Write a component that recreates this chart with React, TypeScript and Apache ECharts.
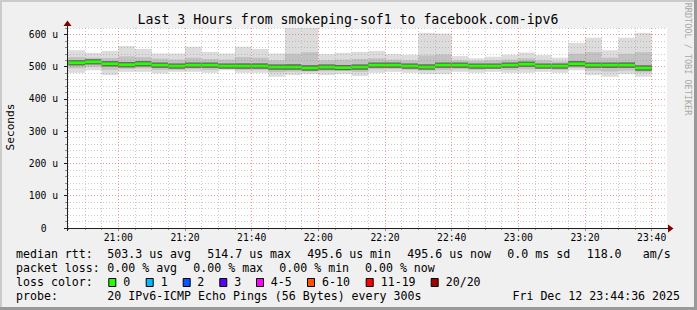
import React, { useEffect, useRef } from "react";
import * as echarts from "echarts";

// ---------- data ----------
const chartTitle = "Last 3 Hours from smokeping-sof1 to facebook.com-ipv6";
const axisStart = "20:44:36";
const axisEnd = "23:44:36";
const firstBin = "20:45";
const stepMinutes = 5;
const xTickLabels = ["21:00", "21:20", "21:40", "22:00", "22:20", "22:40", "23:00", "23:20", "23:40"];
const yMajorTicks = [0, 100, 200, 300, 400, 500, 600];
const yMax = 620;

// microseconds, one value per 5-minute bin
const medianRtt = [512, 515, 509, 506, 509, 505, 502, 505, 505, 502, 502, 502, 499, 499, 496, 499, 497, 499, 505, 505, 502, 499, 505, 505, 502, 502, 505, 508, 502, 502, 509, 505, 505, 505, 496];
const maxRtt = [551, 543, 549, 564, 555, 541, 541, 562, 546, 541, 562, 555, 541, 625, 625, 539, 543, 546, 549, 539, 537, 605, 603, 533, 526, 531, 537, 544, 536, 528, 574, 590, 551, 590, 605];
const minRtt = [481, 489, 474, 484, 484, 479, 484, 484, 481, 489, 481, 481, 469, 474, 477, 474, 477, 471, 481, 484, 481, 477, 477, 484, 481, 484, 481, 481, 484, 481, 489, 474, 469, 477, 469];
const upperMid = [530, 528, 527, 532, 530, 525, 522, 528, 524, 522, 530, 528, 520, 540, 545, 520, 522, 524, 526, 522, 520, 535, 538, 520, 518, 520, 522, 526, 520, 516, 540, 545, 528, 540, 545];
const lowerMid = [495, 500, 490, 493, 495, 490, 490, 492, 490, 493, 490, 490, 483, 485, 485, 486, 487, 484, 492, 493, 490, 488, 490, 492, 490, 493, 490, 492, 493, 490, 496, 488, 485, 488, 482];
const upperInner = [520, 522, 516, 514, 516, 512, 509, 512, 512, 509, 510, 510, 506, 508, 505, 506, 504, 506, 512, 512, 509, 507, 512, 512, 508, 508, 512, 515, 508, 508, 517, 512, 512, 513, 504];
const lowerInner = [505, 508, 501, 498, 501, 497, 495, 497, 497, 495, 494, 495, 491, 491, 488, 491, 490, 491, 497, 497, 495, 492, 497, 497, 495, 495, 497, 500, 495, 495, 501, 497, 496, 497, 488];

const rttRow = ["median rtt:", "503.3 us avg", "514.7 us max", "495.6 us min", "495.6 us now", "0.0 ms sd", "118.0", "am/s"];
const lossRow = ["packet loss:", "0.00 % avg", "0.00 % max", "0.00 % min", "0.00 % now"];
const lossLabels = ["0", "1", "2", "3", "4-5", "6-10", "11-19", "20/20"];
const lossColors = ["#26ff00", "#00b8ff", "#0059ff", "#5e00ff", "#ff00ff", "#ff5500", "#ff0000", "#a10000"];
const probeRow = ["probe:", "20 IPv6-ICMP Echo Pings (56 Bytes) every 300s"];
const timestamp = "Fri Dec 12 23:44:36 2025";
const watermark = "RRDTOOL / TOBI OETIKER";

// ---------- layout ----------
const W = 697;
const H = 310;
const PL = 67, PT = 28, PW = 600, PH = 200;
const MONO = "DejaVu Sans Mono";
const rttX = [16, 107.3, 207.3, 307.3, 407.3, 507.3, 586.7, 642.7];
const lossX = [16, 107.3, 193.3, 279.3, 365];
const boxX = [108.3, 145.7, 182.7, 219.3, 256, 307, 365.7, 430.7];
const boxLabelX = [123.3, 160.7, 197.3, 234.3, 270.7, 322, 380.7, 445.7];

const toMin = (s: string) => {
  const p = s.split(":").map(Number);
  return p[0] * 60 + p[1] + (p[2] || 0) / 60;
};
const fmtMin = (v: number) => {
  const h = Math.floor(v / 60);
  const m = Math.round(v - h * 60);
  return `${h}:${m < 10 ? "0" + m : m}`;
};

export default function App() {
  const ref = useRef<HTMLDivElement>(null);

  useEffect(() => {
    if (!ref.current) return;
    const chart = echarts.init(ref.current, null, { renderer: "svg", width: W, height: H });

    const xMin = toMin(axisStart);
    const xMax = toMin(axisEnd);
    const majorX = xTickLabels.map(toMin);
    const minorX: number[] = [];
    for (let t = Math.ceil(xMin / stepMinutes) * stepMinutes; t < xMax; t += stepMinutes) {
      if (!majorX.includes(t)) minorX.push(t);
    }
    const minorY: number[] = [];
    for (let v = 20; v <= yMax; v += 20) if (v % 100 !== 0) minorY.push(v);

    const binStart = toMin(firstBin);
    const rows = medianRtt.map((m, i) => [
      binStart + i * stepMinutes,
      binStart + (i + 1) * stepMinutes,
      minRtt[i], lowerMid[i], lowerInner[i], m, upperInner[i], upperMid[i], maxRtt[i],
    ]);

    const txt = (text: string, x: number, y: number, extra: any = {}) => ({
      type: "text",
      x, y, z: 50,
      style: {
        text, fontFamily: MONO, fontSize: 11.6, fill: "#000",
        textVerticalAlign: "middle", verticalAlign: "middle", ...extra,
      },
    });

    const graphics: any[] = [
      { type: "rect", z: -10, shape: { x: PL, y: PT, width: PW, height: PH }, style: { fill: "#ffffff" } },
      // border shading
      { type: "rect", z: 60, shape: { x: 0, y: 0, width: W, height: 2 }, style: { fill: "#cbcbcb" } },
      { type: "rect", z: 60, shape: { x: 0, y: 0, width: 2, height: H }, style: { fill: "#cbcbcb" } },
      { type: "rect", z: 61, shape: { x: W - 3, y: 0, width: 3, height: H }, style: { fill: "#999999" } },
      { type: "rect", z: 61, shape: { x: 0, y: H - 3, width: W, height: 3 }, style: { fill: "#999999" } },
      // axes lines
      { type: "line", z: 40, shape: { x1: 64, y1: PT + PH + 0.5, x2: 669, y2: PT + PH + 0.5 }, style: { stroke: "#1f1f1f", lineWidth: 1 } },
      { type: "line", z: 40, shape: { x1: PL + 0.5, y1: PT + PH + 3, x2: PL + 0.5, y2: 24 }, style: { stroke: "#1f1f1f", lineWidth: 1 } },
      { type: "polygon", z: 41, shape: { points: [[668, 224.5], [673.5, 228.5], [668, 232.5]] }, style: { fill: "#7f0000" } },
      { type: "polygon", z: 41, shape: { points: [[63.5, 26], [67.5, 20.5], [71.5, 26]] }, style: { fill: "#7f0000" } },
      // title
      txt(chartTitle, 348, 19, { fontSize: 13.2, align: "center", textAlign: "center" }),
      // y axis title
      { type: "text", z: 50, x: 10, y: 127, rotation: Math.PI / 2,
        style: { text: "Seconds", fontFamily: MONO, fontSize: 11.2, fill: "#000", align: "center", textAlign: "center", verticalAlign: "middle", textVerticalAlign: "middle" } },
      // watermark
      { type: "text", z: 50, x: 688, y: 59, rotation: -Math.PI / 2,
        style: { text: watermark, fontFamily: MONO, fontSize: 8.5, fill: "#a8a8a8", align: "center", textAlign: "center", verticalAlign: "middle", textVerticalAlign: "middle" } },
    ];
    rttRow.forEach((t, i) => graphics.push(txt(t, rttX[i], 254.3)));
    lossRow.forEach((t, i) => graphics.push(txt(t, lossX[i], 268.3)));
    graphics.push(txt("loss color:", 16, 282.3));
    lossLabels.forEach((t, i) => {
      graphics.push({ type: "rect", z: 50, shape: { x: boxX[i] + 0.5, y: 278.5, width: 7, height: 8 }, style: { fill: lossColors[i], stroke: "#000", lineWidth: 1 } });
      graphics.push(txt(t, boxLabelX[i], 282.3));
    });
    graphics.push(txt(probeRow[0], 16, 296.2));
    graphics.push(txt(probeRow[1], 107.3, 296.2));
    graphics.push(txt(timestamp, 680, 296.2, { align: "right", textAlign: "right" }));

    const gridLine = (color: string) => ({ show: true, lineStyle: { color, width: 1, type: [1, 2] } });

    chart.setOption({
      animation: false,
      backgroundColor: "#f0f0f0",
      grid: { left: PL, top: PT, width: PW, height: PH, show: false, containLabel: false },
      xAxis: [
        {
          type: "value", min: xMin, max: xMax, position: "bottom", z: 10,
          axisLine: { show: false },
          axisTick: { show: true, length: 2, lineStyle: { color: "#8f8f8f" }, customValues: minorX },
          axisLabel: { show: false },
          splitLine: gridLine("rgba(143,143,143,0.45)"),
        },
        {
          type: "value", min: xMin, max: xMax, position: "bottom", z: 11,
          axisLine: { show: false },
          axisTick: { show: true, length: 3, lineStyle: { color: "#8f8f8f" }, customValues: majorX },
          axisLabel: {
            show: true, customValues: majorX, formatter: (v: number) => fmtMin(v),
            fontFamily: MONO, fontSize: 9.7, color: "#000", margin: 4,
          },
          splitLine: gridLine("rgba(233,83,83,0.6)"),
        },
      ],
      yAxis: [
        {
          type: "value", min: 0, max: yMax, position: "left", z: 10,
          axisLine: { show: false },
          axisTick: { show: true, length: 2, lineStyle: { color: "#8f8f8f" }, customValues: minorY },
          axisLabel: { show: false },
          splitLine: gridLine("rgba(143,143,143,0.45)"),
        },
        {
          type: "value", min: 0, max: yMax, position: "left", z: 11,
          axisLine: { show: false },
          axisTick: { show: true, length: 3, lineStyle: { color: "#1f1f1f" }, customValues: yMajorTicks },
          axisLabel: {
            show: true, customValues: yMajorTicks,
            formatter: (v: number) => (v === 0 ? "{z|0}" : `${v} u`),
            fontFamily: MONO, fontSize: 9.7, color: "#000", margin: 9,
            rich: { z: { fontFamily: MONO, fontSize: 9.7, color: "#000", padding: [0, 11.4, 0, 0] } },
          },
          splitLine: gridLine("rgba(233,83,83,0.6)"),
        },
      ],
      graphic: { elements: graphics },
      series: [
        {
          type: "custom",
          xAxisIndex: 0,
          yAxisIndex: 0,
          z: 2,
          encode: { x: [0, 1], y: [2, 3, 4, 5, 6, 7, 8] },
          data: rows,
          renderItem: (params: any, api: any) => {
            const cs = params.coordSys;
            const clip = { x: cs.x, y: cs.y, width: cs.width, height: cs.height };
            const x0 = api.value(0);
            const x1 = api.value(1);
            const band = (lo: number, hi: number, fill: string) => {
              const a = api.coord([x0, hi]);
              const b = api.coord([x1, lo]);
              const shape = echarts.graphic.clipRectByRect(
                { x: a[0], y: a[1], width: b[0] - a[0], height: b[1] - a[1] }, clip);
              return shape ? { type: "rect", shape, style: { fill } } : null;
            };
            const m0 = api.coord([x0, api.value(5)]);
            const m1 = api.coord([x1, api.value(5)]);
            const children = [
              band(api.value(2), api.value(8), "#dcdcdc"),
              band(api.value(3), api.value(7), "#c2c2c2"),
              band(api.value(4), api.value(6), "#939393"),
              { type: "rect", shape: { x: m0[0], y: m0[1] - 2.5, width: m1[0] - m0[0], height: 5 }, style: { fill: "#555555" } },
              { type: "rect", shape: { x: m0[0], y: m0[1] - 1.5, width: m1[0] - m0[0], height: 3 }, style: { fill: "#26ff00" } },
            ].filter(Boolean);
            return { type: "group", children };
          },
        },
      ],
    });

    return () => chart.dispose();
  }, []);

  return (
    <div
      ref={ref}
      style={{ position: "absolute", left: 0, top: 0, width: W, height: H, background: "#f0f0f0" }}
    />
  );
}
